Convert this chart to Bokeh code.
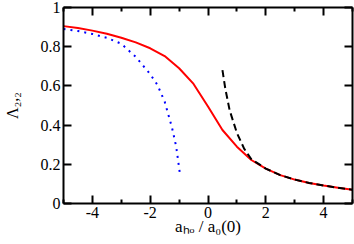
from bokeh.plotting import figure
from bokeh.models import FixedTicker, LinearAxis, Range1d
from bokeh.embed import file_html
from bokeh.resources import INLINE

# ---- data ----
red_x = [-5, -4.5, -4, -3.5, -3, -2.5, -2, -1.5, -1, -0.5, 0, 0.5, 1, 1.5, 2, 2.5, 3, 3.5, 4, 4.5, 5]
red_y = [0.905, 0.895, 0.882, 0.866, 0.846, 0.822, 0.792, 0.752, 0.69, 0.61, 0.495, 0.375, 0.29, 0.222, 0.178, 0.145, 0.122, 0.105, 0.092, 0.080, 0.070]

blue_x = [-5, -4.5, -4, -3.5, -3, -2.5, -2, -1.75, -1.5, -1.25, -1.1, -0.97]
blue_y = [0.89, 0.88, 0.865, 0.845, 0.815, 0.748, 0.66, 0.605, 0.52, 0.39, 0.29, 0.15]

black_x = [0.5, 0.6, 0.75, 1.0, 1.25, 1.5, 2, 2.5, 3, 3.5, 4, 4.5, 5]
black_y = [0.68, 0.585, 0.475, 0.36, 0.28, 0.226, 0.178, 0.145, 0.122, 0.105, 0.092, 0.080, 0.070]

x_major = [-4, -2, 0, 2, 4]
x_minor = [-5, -3, -1, 1, 3, 5]
x_labels = {-4: "-4", -2: "-2", 0: "0", 2: "2", 4: "4"}
y_major = [0, 0.2, 0.4, 0.6, 0.8, 1]
y_labels = {0: "0", 0.2: "0.2", 0.4: "0.4", 0.6: "0.6", 0.8: "0.8", 1: "1"}

x_title = "a\u2095\u2092 / a\u2080(0)"
y_title = "\u039b\u2082,\u2082"

FONT = "Liberation Serif"

p = figure(width=354, height=244, output_backend="svg", toolbar_location=None,
           x_range=Range1d(-5, 5), y_range=Range1d(0, 1),
           min_border_left=52, min_border_right=2, min_border_top=7, min_border_bottom=41,
           x_axis_location=None, y_axis_location=None)
p.grid.visible = False
p.outline_line_color = None
p.background_fill_color = "white"
p.border_fill_color = "white"

def style_axis(ax, ticker, labels=True):
    ax.ticker = ticker
    ax.axis_line_width = 2
    ax.axis_line_color = "black"
    ax.major_tick_in = 8
    ax.major_tick_out = 0
    ax.minor_tick_in = 4
    ax.minor_tick_out = 0
    ax.major_tick_line_width = 2
    ax.minor_tick_line_width = 2
    ax.major_label_standoff = 3 if labels else 0
    ax.major_label_text_font = FONT
    ax.major_label_text_font_size = "16px" if labels else "0px"
    ax.major_label_text_color = "black" if labels else None
    ax.axis_label_text_font = FONT
    ax.axis_label_text_font_style = "normal"
    ax.axis_label_text_color = "black"

xb = LinearAxis()
style_axis(xb, FixedTicker(ticks=x_major, minor_ticks=x_minor))
xb.major_label_overrides = x_labels
xb.axis_label = x_title
xb.axis_label_text_font_size = "17px"
xb.axis_label_standoff = -4
p.add_layout(xb, "below")
xt = LinearAxis()
style_axis(xt, FixedTicker(ticks=x_major, minor_ticks=x_minor), labels=False)
p.add_layout(xt, "above")
yl = LinearAxis()
style_axis(yl, FixedTicker(ticks=y_major, minor_ticks=[]))
yl.major_label_overrides = y_labels
yl.axis_label = y_title
yl.axis_label_text_font_size = "16px"
yl.axis_label_standoff = 17
p.add_layout(yl, "left")
yr = LinearAxis()
style_axis(yr, FixedTicker(ticks=y_major, minor_ticks=[]), labels=False)
p.add_layout(yr, "right")

p.line(red_x, red_y, line_color="#ff0000", line_width=2)
p.line(blue_x, blue_y, line_color="#0000ff", line_width=2, line_dash="2 5")
p.line(black_x, black_y, line_color="black", line_width=2, line_dash="7 4")

open("out.html", "w").write(file_html(p, INLINE))
